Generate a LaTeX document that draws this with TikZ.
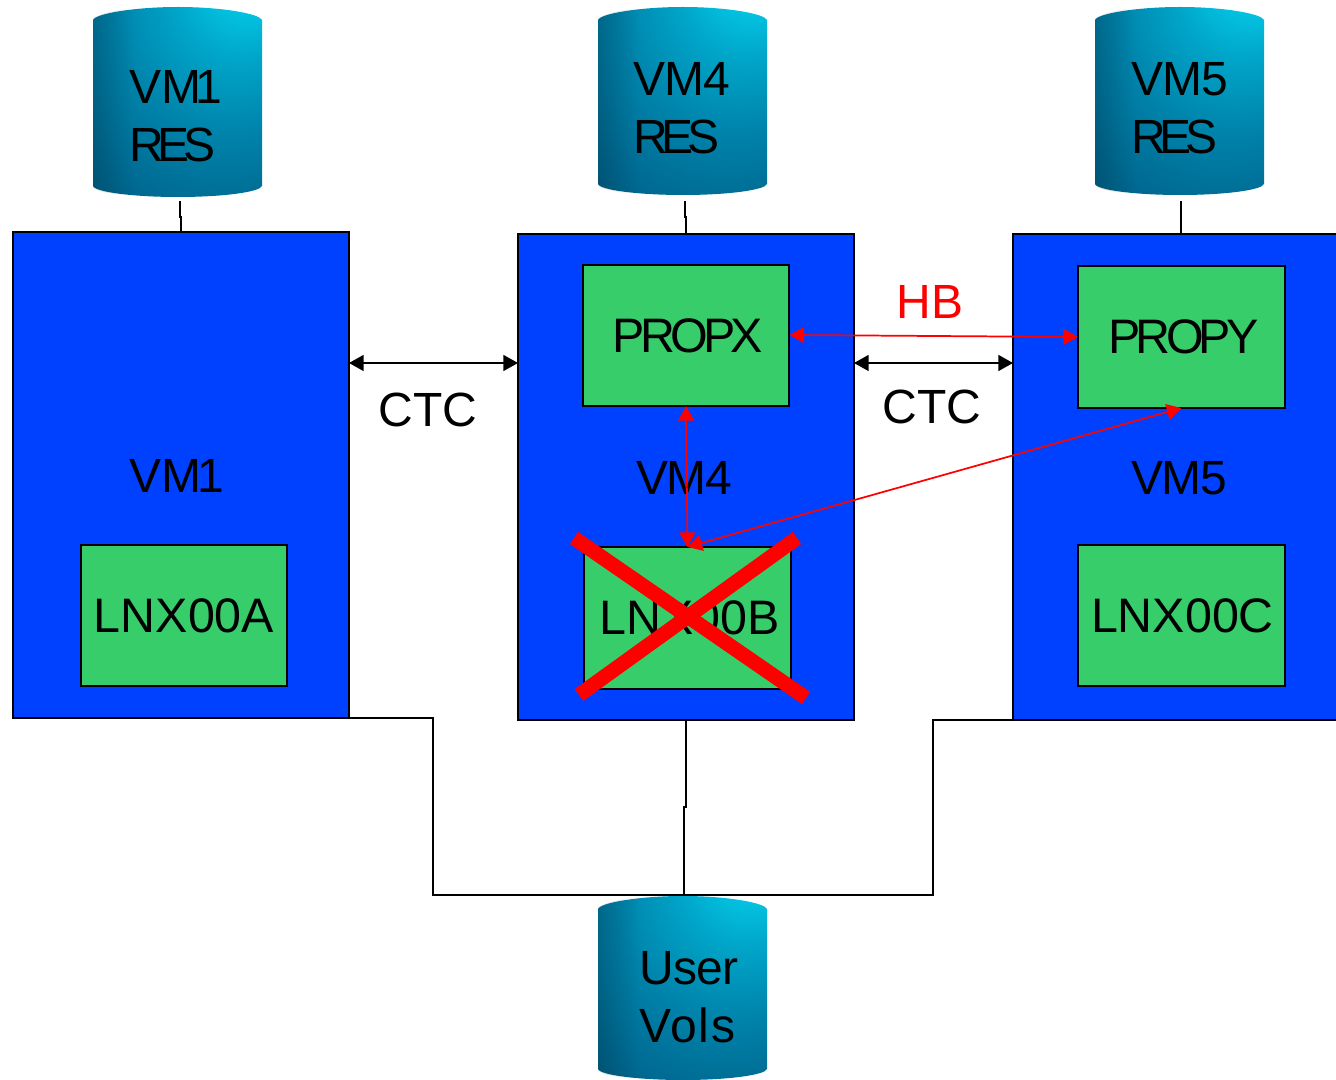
\documentclass[tikz,border=0pt]{standalone}
\usepackage{fontspec}
\setmainfont{Liberation Sans}
\usetikzlibrary{arrows.meta,fadings,calc}
\definecolor{vmblue}{RGB}{0,65,255}
\definecolor{lpargreen}{RGB}{55,205,107}
\definecolor{hbred}{RGB}{255,0,0}
\definecolor{dsa}{RGB}{40,240,240}
\definecolor{dsb}{RGB}{5,205,235}
\definecolor{dsc}{RGB}{0,165,200}
\definecolor{dsd}{RGB}{0,130,170}
\definecolor{dse}{RGB}{0,105,145}
\definecolor{dsf}{RGB}{0,80,112}
\definecolor{dsg}{RGB}{0,65,95}
\pgfdeclareradialshading{diskshade}{\pgfpoint{24bp}{40bp}}{%
  color(0bp)=(dsa);
  color(8bp)=(dsb);
  color(20bp)=(dsc);
  color(34bp)=(dsd);
  color(48bp)=(dse);
  color(66bp)=(dsf);
  color(90bp)=(dsg)}
\newcommand\tight[2]{{\addfontfeature{LetterSpace=#1}#2}}
\tikzset{
  lbl/.style={inner sep=0pt,outer sep=0pt,font=\fontsize{36}{44}\selectfont},
  hblbl/.style={lbl,text=hbred},
  disklbl/.style={lbl,align=left,anchor=north west},
  vmbox/.style={draw=black,fill=vmblue,line width=1.2pt,inner sep=0pt,outer sep=0pt,anchor=north west},
  lpar/.style={draw=black,fill=lpargreen,line width=1.1pt,inner sep=0pt,outer sep=0pt,anchor=north west,font=\fontsize{36.3}{44}\selectfont},
  wire/.style={draw=black,line width=1.1pt},
  ctc/.style={draw=black,line width=1.1pt,{Triangle[length=11pt,width=12pt]}-{Triangle[length=11pt,width=12pt]}},
  hb/.style={draw=hbred,line width=1.3pt,{Triangle[length=11pt,width=12pt]}-{Triangle[length=11pt,width=12pt]}},
  cross/.style={draw=hbred,line width=11pt}
}
\newcommand\pxbox[7]{%
  \pgfmathsetmacro\pxwide{(#4-#2)*.75}%
  \pgfmathsetmacro\pxhigh{(#5-#3)*.75}%
  \node[#6,minimum width=\pxwide pt,minimum height=\pxhigh pt] (#1) at (#2,#3) {#7};}
\newcommand\disk[7]{%
  % name, x0, y0, y1, text, text x, text y
  \pgfmathsetmacro\dka{#3+13}%
  \pgfmathsetmacro\dkb{#4-11}%
  \def\dkpath{(#2,\dka) .. controls (#2+2,#3+7) and (#2+40,#3) .. (#2+85,#3)
     .. controls (#2+130,#3) and (#2+167,#3+7) .. (#2+169,\dka)
     -- (#2+169,\dkb) .. controls (#2+167,#4-5) and (#2+130,#4) .. (#2+85,#4)
     .. controls (#2+40,#4) and (#2+2,#4-5) .. (#2,\dkb) -- cycle}%
  \shade[shading=diskshade] \dkpath;
  \fill[black,fill opacity=.15,path fading=east] (#2,\dka) .. controls (#2+1,#3+9) and (#2+15,#3+4) .. (#2+40,#3+1) -- (#2+40,#4-1) .. controls (#2+15,#4-3) and (#2+1,#4-6) .. (#2,\dkb) -- cycle;
  \node[disklbl] (#1) at (#6,#7) {#5};}
\begin{document}
\begin{tikzpicture}[x=.75pt,y=-.75pt]
\useasboundingbox (0,0) rectangle (1336,1080);
% storage
\disk{resa}{93}{7}{197}{VM\kern-4pt 1\\\tight{-13}{RES}}{129}{70}
\disk{resb}{598}{7}{195}{\tight{-2}{VM4}\\\tight{-13}{RES}}{633}{62}
\disk{resc}{1095}{7}{195}{\tight{-2}{VM5}\\\tight{-13}{RES}}{1131}{62}
\disk{uservols}{598}{896}{1080}{\tight{-1}{User}\\\tight{4}{Vols}}{639}{951}
% systems
\pxbox{vma}{13}{232}{349}{718}{vmbox}{}
\pxbox{vmb}{518}{234}{854}{720}{vmbox}{}
\pxbox{vmc}{1013}{234}{1345}{720}{vmbox}{}
\pxbox{propx}{583}{265}{789}{406}{lpar}{\kern3pt\tight{-10}{PROPX}}
\pxbox{propy}{1078}{266}{1285}{408}{lpar}{\kern3pt\tight{-10}{PROPY}}
\pxbox{lnxa}{81}{545}{287}{686}{lpar}{LNX00A}
\pxbox{lnxb}{584}{547}{791}{689}{lpar}{\kern3pt\raisebox{-1.5pt}{LNX00B}}
\pxbox{lnxc}{1078}{545}{1285}{686}{lpar}{\kern1.5pt LNX00C}
% labels
\node[lbl] (vmalbl) at (177,476) {VM\kern-3pt 1};
\node[lbl] (vmblbl) at (684,478) {\tight{-3}{VM4}};
\node[lbl] (vmclbl) at (1179,478) {\tight{-3}{VM5}};
\node[lbl] (ctca) at (428,410) {CTC};
\node[lbl] (ctcb) at (932,407) {CTC};
\node[hblbl] (hblabel) at (930,302) {HB};
% coordinates for connectors
\coordinate (ra) at (180,201); \coordinate (rb) at (685,201); \coordinate (rc) at (1181,201);
\coordinate (ctclev) at (0,363);
\coordinate (hba) at (789.5,335); \coordinate (hbb) at (1078,337);
\coordinate (busl) at (433,895); \coordinate (busr) at (933,895);
\coordinate (busm) at (684,895); \coordinate (busj) at (686,807);
\coordinate (xa) at (574,538); \coordinate (xb) at (806,698);
\coordinate (xc) at (797,538); \coordinate (xd) at (579,695);
% connectors
\draw[wire] (ra) -- (180,217) -- (181,217) -- (vma.north -| 181,0);
\draw[wire] (rb) -- (685,217) -- (686,217) -- (vmb.north);
\draw[wire] (rc) -- (vmc.north -| rc);
\draw[ctc] (vma.east |- ctclev) -- (vmb.west |- ctclev);
\draw[ctc] (vmb.east |- ctclev) -- (vmc.west |- ctclev);
\draw[wire] (vma.south east) -| (busl) -- (busr) |- (vmc.south west);
\draw[wire] (vmb.south) -- (busj) -- (busj -| busm) -- (busm);
\draw[hb] (hba) -- (hbb);
\draw[hb] (propx.south) -- (lnxb.north);
\draw[hb] (propy.south) -- (lnxb.north);
\draw[cross] (xa) -- (xb);
\draw[cross] (xc) -- (xd);
\end{tikzpicture}
\end{document}
